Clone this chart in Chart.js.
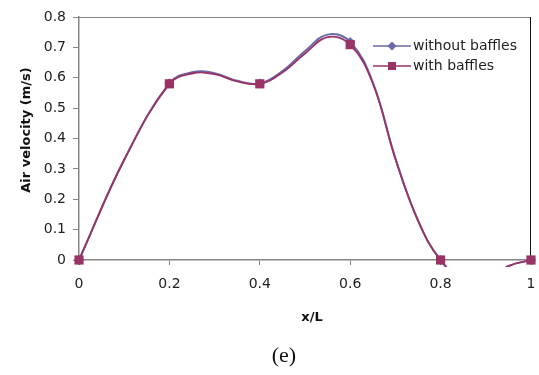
<!DOCTYPE html>
<html>
<head>
<meta charset="utf-8">
<script src="https://cdn.jsdelivr.net/npm/chart.js@4"></script>
<style>
  html, body { margin: 0; padding: 0; background: #fff; }
  #wrap { position: relative; width: 539px; height: 375px; }
  #caption {
    position: absolute; left: 254px; top: 342px; width: 60px; text-align: center;
    font-family: "Liberation Serif", serif; font-size: 22px; color: #111;
  }
</style>
</head>
<body>
<div id="wrap">
  <canvas id="chart" width="539" height="375"></canvas>
  <div id="caption">(e)</div>
</div>
<script>
// x/L positions
const xPos = [0, 0.1, 0.2, 0.25, 0.3, 0.35, 0.4, 0.45, 0.5,
              0.55, 0.6, 0.65, 0.7, 0.75, 0.8, 0.87, 0.95, 1];
// air velocity (m/s)
const withoutBaffles = [0, 0.33, 0.582, 0.618, 0.615, 0.59, 0.581, 0.622, 0.688,
                        0.742, 0.718, 0.585, 0.335, 0.13, 0, -0.09, -0.02, 0];
const withBaffles = [0, 0.33, 0.58, 0.614, 0.612, 0.588, 0.58, 0.617, 0.68,
                     0.734, 0.709, 0.582, 0.333, 0.13, 0, -0.09, -0.02, 0];
// markers only at these x/L values
const markerX = [0, 0.2, 0.4, 0.6, 0.8, 1];
const seriesNames = ['without baffles', 'with baffles'];
const xTicks = [0, 0.2, 0.4, 0.6, 0.8, 1];
const xTitle = 'x/L';
const yTitle = 'Air velocity (m/s)';

const blue = '#6a6aa8';
const red = '#993366';
const axisGray = '#868686';

const toPoints = (ys) => xPos.map((x, i) => ({ x: x, y: ys[i] }));
const radii = (r) => xPos.map((x) => (markerX.includes(x) ? r : 0));

// legend inside the plot, Excel style: line with marker in the middle
const insideLegend = {
  id: 'insideLegend',
  afterDraw(chart) {
    const ctx = chart.ctx;
    const rows = [
      { ds: chart.data.datasets[0], y: 46 },
      { ds: chart.data.datasets[1], y: 66 },
    ];
    ctx.save();
    rows.forEach(({ ds, y }) => {
      ctx.strokeStyle = ds.borderColor;
      ctx.lineWidth = 1.5;
      ctx.beginPath();
      ctx.moveTo(373, y);
      ctx.lineTo(411, y);
      ctx.stroke();
      ctx.fillStyle = ds.borderColor;
      ctx.beginPath();
      if (ds.pointStyle === 'rectRot') {
        ctx.moveTo(392, y - 4.5);
        ctx.lineTo(396.5, y);
        ctx.lineTo(392, y + 4.5);
        ctx.lineTo(387.5, y);
        ctx.closePath();
      } else {
        ctx.rect(388, y - 4, 8, 8);
      }
      ctx.fill();
      ctx.fillStyle = '#222';
      ctx.font = '14px "DejaVu Sans"';
      ctx.textBaseline = 'middle';
      ctx.fillText(ds.label, 413, y);
    });
    ctx.restore();
  },
};

// axis titles, placed where the original has them
const axisTitles = {
  id: 'axisTitles',
  afterDraw(chart) {
    const ctx = chart.ctx;
    ctx.save();
    ctx.fillStyle = '#111';
    ctx.font = 'bold 13px "DejaVu Sans"';
    ctx.textAlign = 'center';
    ctx.textBaseline = 'middle';
    ctx.fillText(xTitle, 312, 318);
    ctx.translate(27, 130);
    ctx.rotate(-Math.PI / 2);
    ctx.fillText(yTitle, 0, 0);
    ctx.restore();
  },
};

// top and right border of plot area
const plotBorder = {
  id: 'plotBorder',
  beforeDatasetsDraw(chart) {
    const { left, right, top, bottom } = chart.chartArea;
    const ctx = chart.ctx;
    ctx.save();
    ctx.lineWidth = 1;
    ctx.strokeStyle = axisGray;
    ctx.beginPath();
    ctx.moveTo(left, top + 0.5);
    ctx.lineTo(right, top + 0.5);
    ctx.stroke();
    ctx.strokeStyle = '#111';
    ctx.beginPath();
    ctx.moveTo(right - 0.5, top);
    ctx.lineTo(right - 0.5, bottom);
    ctx.stroke();
    ctx.restore();
  },
};

new Chart(document.getElementById('chart'), {
  type: 'line',
  data: {
    datasets: [
      {
        label: seriesNames[0],
        data: toPoints(withoutBaffles),
        borderColor: blue,
        backgroundColor: blue,
        borderWidth: 2,
        pointStyle: 'rectRot',
        pointRadius: radii(5),
        pointBorderWidth: 0,
        tension: 0.4,
        clip: { left: 6, top: 6, right: 6, bottom: 7 },
        order: 2,
      },
      {
        label: seriesNames[1],
        data: toPoints(withBaffles),
        borderColor: red,
        backgroundColor: red,
        borderWidth: 1.8,
        pointStyle: 'rect',
        pointRadius: radii(6.5),
        pointBorderWidth: 0,
        tension: 0.4,
        clip: { left: 6, top: 6, right: 6, bottom: 7 },
        order: 1,
      },
    ],
  },
  options: {
    responsive: false,
    animation: false,
    layout: { padding: { left: 0, top: 17, right: 8, bottom: 0 } },
    plugins: {
      legend: { display: false },
      tooltip: { enabled: false },
    },
    scales: {
      x: {
        type: 'linear',
        min: 0,
        max: 1,
        afterFit: (scale) => {
          scale.height = 115;
          scale.paddingLeft = 0;
          scale.paddingRight = 0;
        },
        afterBuildTicks: (scale) => { scale.ticks = xTicks.map((v) => ({ value: v })); },
        grid: { drawOnChartArea: false, tickLength: 5, color: axisGray },
        border: { color: axisGray, width: 1.5 },
        ticks: {
          padding: 11,
          color: '#222',
          font: { family: 'DejaVu Sans', size: 14 },
          maxRotation: 0,
          callback: (v) => String(Math.round(v * 10) / 10),
        },
      },
      y: {
        min: 0,
        max: 0.8,
        afterFit: (scale) => {
          scale.width = 79;
          scale.paddingTop = 0;
          scale.paddingBottom = 0;
        },
        grid: { drawOnChartArea: false, tickLength: 6, color: axisGray },
        border: { color: axisGray, width: 1.5 },
        ticks: {
          stepSize: 0.1,
          padding: 7,
          color: '#222',
          font: { family: 'DejaVu Sans', size: 14 },
          callback: (v) => String(Math.round(v * 10) / 10),
        },
      },
    },
  },
  plugins: [plotBorder, insideLegend, axisTitles],
});
</script>
</body>
</html>
